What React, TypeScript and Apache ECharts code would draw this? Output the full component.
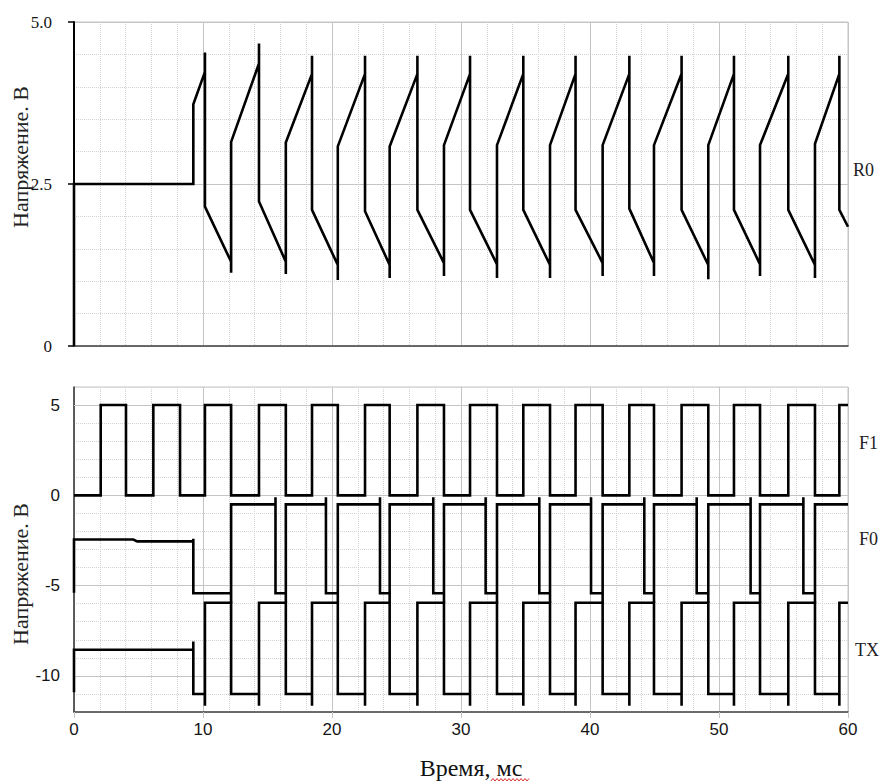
import React, { useEffect, useRef } from "react";
import * as echarts from "echarts";

// ---- data ----
const xTickLabels = [0, 10, 20, 30, 40, 50, 60];
const topYTickLabels = ["0", "2.5", "5.0"];
const bottomYTicks = [5, 0, -5, -10];

const r0Points: number[][] = [
  [0, 0], [0, 2.5], [9.25, 2.5], [9.25, 3.73],
  [10.15, 4.23], [10.15, 4.53], [10.15, 2.15], [12.18, 1.3], [12.18, 1.13], [12.18, 3.15],
  [14.34, 4.36], [14.34, 4.67], [14.34, 2.23], [16.42, 1.3], [16.42, 1.11], [16.42, 3.14],
  [18.45, 4.2], [18.45, 4.48], [18.45, 2.1], [20.45, 1.25], [20.45, 1.02], [20.45, 3.08],
  [22.56, 4.2], [22.56, 4.48], [22.56, 2.08], [24.47, 1.25], [24.47, 1.05], [24.47, 3.08],
  [26.62, 4.2], [26.62, 4.48], [26.62, 2.1], [28.68, 1.28], [28.68, 1.08], [28.68, 3.1],
  [30.7, 4.2], [30.7, 4.48], [30.7, 2.1], [32.79, 1.26], [32.79, 1.05], [32.79, 3.1],
  [34.83, 4.2], [34.83, 4.48], [34.83, 2.1], [36.9, 1.25], [36.9, 1.05], [36.9, 3.1],
  [38.88, 4.2], [38.88, 4.48], [38.88, 2.1], [40.98, 1.28], [40.98, 1.08], [40.98, 3.1],
  [43.05, 4.2], [43.05, 4.48], [43.05, 2.12], [44.96, 1.28], [44.96, 1.08], [44.96, 3.1],
  [47.1, 4.2], [47.1, 4.48], [47.1, 2.1], [49.17, 1.25], [49.17, 1.03], [49.17, 3.1],
  [51.16, 4.2], [51.16, 4.48], [51.16, 2.1], [53.18, 1.26], [53.18, 1.08], [53.18, 3.1],
  [55.37, 4.2], [55.37, 4.48], [55.37, 2.1], [57.44, 1.25], [57.44, 1.05], [57.44, 3.12],
  [59.33, 4.2], [59.33, 4.48], [59.33, 2.1], [60, 1.84],
];

const f1Points: number[][] = [
  [0, 0], [2.07, 0], [2.07, 5], [4.03, 5], [4.03, 0], [6.15, 0], [6.15, 5], [8.22, 5], [8.22, 0],
  [10.15, 0], [10.15, 5], [12.18, 5], [12.18, 0], [14.34, 0], [14.34, 5], [16.42, 5], [16.42, 0],
  [18.45, 0], [18.45, 5], [20.45, 5], [20.45, 0], [22.56, 0], [22.56, 5], [24.47, 5], [24.47, 0],
  [26.62, 0], [26.62, 5], [28.68, 5], [28.68, 0], [30.7, 0], [30.7, 5], [32.79, 5], [32.79, 0],
  [34.83, 0], [34.83, 5], [36.9, 5], [36.9, 0], [38.88, 0], [38.88, 5], [40.98, 5], [40.98, 0],
  [43.05, 0], [43.05, 5], [44.96, 5], [44.96, 0], [47.1, 0], [47.1, 5], [49.17, 5], [49.17, 0],
  [51.16, 0], [51.16, 5], [53.18, 5], [53.18, 0], [55.37, 0], [55.37, 5], [57.44, 5], [57.44, 0],
  [59.33, 0], [59.33, 5], [60, 5],
];

const f0Points: number[][] = [
  [0, -5.4], [0, -2.45], [4.6, -2.45], [4.9, -2.55], [9.25, -2.55], [9.25, -2.4], [9.25, -5.42],
  [12.18, -5.42], [12.18, -5.95], [12.18, -0.5],
  [15.62, -0.5], [15.62, -0.1], [15.62, -5.42], [16.42, -5.42], [16.42, -5.95], [16.42, -0.5],
  [19.53, -0.5], [19.53, -0.1], [19.53, -5.42], [20.45, -5.42], [20.45, -5.95], [20.45, -0.5],
  [23.72, -0.5], [23.72, -0.1], [23.72, -5.42], [24.47, -5.42], [24.47, -5.95], [24.47, -0.5],
  [27.85, -0.5], [27.85, -0.1], [27.85, -5.42], [28.68, -5.42], [28.68, -5.95], [28.68, -0.5],
  [31.91, -0.5], [31.91, -0.1], [31.91, -5.42], [32.79, -5.42], [32.79, -5.95], [32.79, -0.5],
  [36.07, -0.5], [36.07, -0.1], [36.07, -5.42], [36.9, -5.42], [36.9, -5.95], [36.9, -0.5],
  [40.08, -0.5], [40.08, -0.1], [40.08, -5.42], [40.98, -5.42], [40.98, -5.95], [40.98, -0.5],
  [44.21, -0.5], [44.21, -0.1], [44.21, -5.42], [44.96, -5.42], [44.96, -5.95], [44.96, -0.5],
  [48.27, -0.5], [48.27, -0.1], [48.27, -5.42], [49.17, -5.42], [49.17, -5.95], [49.17, -0.5],
  [52.45, -0.5], [52.45, -0.1], [52.45, -5.42], [53.18, -5.42], [53.18, -5.95], [53.18, -0.5],
  [56.54, -0.5], [56.54, -0.1], [56.54, -5.42], [57.44, -5.42], [57.44, -5.95], [57.44, -0.5],
  [60, -0.5],
];

const txPoints: number[][] = [
  [0, -10.9], [0, -8.55], [9.25, -8.55], [9.25, -8.1], [9.25, -11.0],
  [10.15, -11.0], [10.15, -11.65], [10.15, -5.95], [12.18, -5.95], [12.18, -11.0],
  [14.34, -11.0], [14.34, -11.65], [14.34, -5.95], [16.42, -5.95], [16.42, -11.0],
  [18.45, -11.0], [18.45, -11.65], [18.45, -5.95], [20.45, -5.95], [20.45, -11.0],
  [22.56, -11.0], [22.56, -11.65], [22.56, -5.95], [24.47, -5.95], [24.47, -11.0],
  [26.62, -11.0], [26.62, -11.65], [26.62, -5.95], [28.68, -5.95], [28.68, -11.0],
  [30.7, -11.0], [30.7, -11.65], [30.7, -5.95], [32.79, -5.95], [32.79, -11.0],
  [34.83, -11.0], [34.83, -11.65], [34.83, -5.95], [36.9, -5.95], [36.9, -11.0],
  [38.88, -11.0], [38.88, -11.65], [38.88, -5.95], [40.98, -5.95], [40.98, -11.0],
  [43.05, -11.0], [43.05, -11.65], [43.05, -5.95], [44.96, -5.95], [44.96, -11.0],
  [47.1, -11.0], [47.1, -11.65], [47.1, -5.95], [49.17, -5.95], [49.17, -11.0],
  [51.16, -11.0], [51.16, -11.65], [51.16, -5.95], [53.18, -5.95], [53.18, -11.0],
  [55.37, -11.0], [55.37, -11.65], [55.37, -5.95], [57.44, -5.95], [57.44, -11.0],
  [59.33, -11.0], [59.33, -11.65], [59.33, -5.95], [60, -5.95],
];

const seriesNames = ["R0", "F1", "F0", "TX"];
const yTitle = "Напряжение. В";
const xTitle = "Время, мс";

const SERIF = "'Liberation Serif', 'Times New Roman', serif";
const SANS = "'Liberation Sans', Arial, sans-serif";
const MAJOR = "#c4c4c4";
const MINOR = "#d2d2d2";
const TEXT = "#151515";

export default function App() {
  const ref = useRef<HTMLDivElement>(null);

  useEffect(() => {
    if (!ref.current) return;
    const chart = echarts.init(ref.current, undefined, { renderer: "svg" });

    const lineStyle = { color: "#000", width: 2.6, join: "miter" as const };

    const xBase = (gridIndex: number, showLabels: boolean) => ({
      type: "value" as const,
      gridIndex,
      min: 0,
      max: 60,
      interval: 10,
      axisLine: { show: true, onZero: false, lineStyle: { color: "#444", width: 1.5 } },
      axisTick: { show: showLabels, length: 6, lineStyle: { color: MAJOR } },
      axisLabel: {
        show: showLabels,
        margin: 9,
        fontFamily: SANS,
        fontSize: 17,
        color: TEXT,
        formatter: (v: number) => (xTickLabels.includes(v) ? String(v) : ""),
      },
      splitLine: { show: true, lineStyle: { color: MAJOR, width: 1, type: "solid" as const } },
      minorTick: { show: false, splitNumber: 5 },
      minorSplitLine: { show: true, lineStyle: { color: MINOR, width: 1, type: "dotted" as const } },
    });

    const wave = [];
    for (let i = 0; i < 80; i++) {
      const x = 491 + i * 2;
      if (x > 529) break;
      wave.push([x, i % 2 === 0 ? 781 : 778.5]);
    }

    const option: any = {
      animation: false,
      backgroundColor: "#fff",
      grid: [
        { left: 74, top: 22, width: 774, height: 324, show: true, borderColor: MAJOR, borderWidth: 1, backgroundColor: "transparent" },
        { left: 74, top: 387, width: 774, height: 325, show: true, borderColor: MAJOR, borderWidth: 1, backgroundColor: "transparent" },
      ],
      xAxis: [xBase(0, false), xBase(1, true)],
      yAxis: [
        {
          type: "value",
          gridIndex: 0,
          min: 0,
          max: 5,
          interval: 2.5,
          axisLine: { show: true, lineStyle: { color: "#000", width: 2 } },
          axisTick: { show: true, length: 6, lineStyle: { color: "#000", width: 1.5 } },
          axisLabel: {
            margin: 22,
            fontFamily: SERIF,
            fontSize: 17,
            color: TEXT,
            formatter: (v: number) => {
              const s = v === 0 ? "0" : v.toFixed(1);
              return topYTickLabels.includes(s) ? s : "";
            },
          },
          splitLine: { show: true, lineStyle: { color: MAJOR, width: 1, type: "solid" } },
          minorTick: { show: false, splitNumber: 5 },
          minorSplitLine: { show: true, lineStyle: { color: MINOR, width: 1, type: "dotted" } },
        },
        {
          type: "value",
          gridIndex: 1,
          min: -12,
          max: 6,
          interval: 1,
          axisLine: { show: true, onZero: false, lineStyle: { color: "#333", width: 1.5 } },
          axisTick: { show: false },
          axisLabel: {
            margin: 14,
            fontFamily: SANS,
            fontSize: 17,
            color: TEXT,
            formatter: (v: number) => (bottomYTicks.includes(v) ? String(v) : ""),
          },
          splitLine: { show: true, lineStyle: { color: MINOR, width: 1, type: "dotted" } },
        },
      ],
      series: [
        {
          name: seriesNames[0],
          type: "line",
          xAxisIndex: 0,
          yAxisIndex: 0,
          data: r0Points,
          showSymbol: false,
          symbol: "none",
          lineStyle,
          silent: true,
        },
        {
          name: seriesNames[1],
          type: "line",
          xAxisIndex: 1,
          yAxisIndex: 1,
          data: f1Points,
          showSymbol: false,
          symbol: "none",
          lineStyle,
          silent: true,
          markLine: {
            silent: true,
            symbol: "none",
            z: 1,
            label: { show: false },
            lineStyle: { color: MAJOR, width: 1, type: "solid" },
            data: bottomYTicks.map((v) => ({ yAxis: v })),
          },
        },
        {
          name: seriesNames[2],
          type: "line",
          xAxisIndex: 1,
          yAxisIndex: 1,
          data: f0Points,
          showSymbol: false,
          symbol: "none",
          lineStyle,
          silent: true,
        },
        {
          name: seriesNames[3],
          type: "line",
          xAxisIndex: 1,
          yAxisIndex: 1,
          data: txPoints,
          showSymbol: false,
          symbol: "none",
          lineStyle,
          silent: true,
        },
      ],
      graphic: [
        {
          type: "text",
          x: 20,
          y: 157,
          rotation: Math.PI / 2,
          style: { text: yTitle, font: `22px ${SERIF}`, fill: "#222", align: "center", verticalAlign: "middle" },
        },
        {
          type: "text",
          x: 20,
          y: 574,
          rotation: Math.PI / 2,
          style: { text: yTitle, font: `22px ${SERIF}`, fill: "#222", align: "center", verticalAlign: "middle" },
        },
        {
          type: "text",
          x: 471,
          y: 768,
          style: { text: xTitle, font: `24px ${SERIF}`, fill: "#111", align: "center", verticalAlign: "middle" },
        },
        {
          type: "polyline",
          shape: { points: wave },
          style: { stroke: "#e03030", lineWidth: 1, fill: null },
        },
        { type: "text", x: 853, y: 170, style: { text: seriesNames[0], font: `18px ${SERIF}`, fill: "#222", align: "left", verticalAlign: "middle" } },
        { type: "text", x: 859, y: 443, style: { text: seriesNames[1], font: `18px ${SERIF}`, fill: "#222", align: "left", verticalAlign: "middle" } },
        { type: "text", x: 859, y: 539, style: { text: seriesNames[2], font: `18px ${SERIF}`, fill: "#222", align: "left", verticalAlign: "middle" } },
        { type: "text", x: 855, y: 650, style: { text: seriesNames[3], font: `18px ${SERIF}`, fill: "#222", align: "left", verticalAlign: "middle" } },
      ],
    };

    chart.setOption(option);
    return () => chart.dispose();
  }, []);

  return (
    <div
      ref={ref}
      style={{ position: "absolute", left: 0, top: 0, width: 882, height: 782, background: "#fff" }}
    />
  );
}
